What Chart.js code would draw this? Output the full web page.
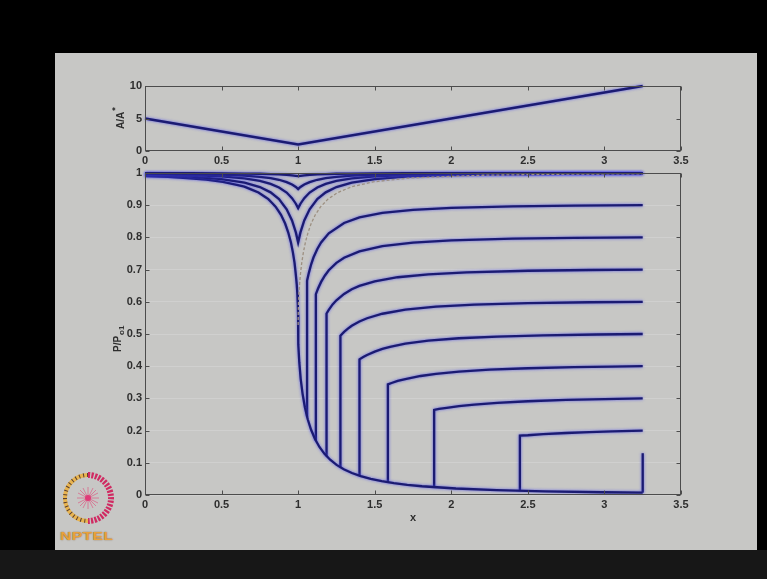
<!DOCTYPE html>
<html>
<head>
<meta charset="utf-8">
<script src="https://cdn.jsdelivr.net/npm/chart.js@4.4.1/dist/chart.umd.min.js"></script>
<style>
html,body{margin:0;padding:0;width:767px;height:579px;overflow:hidden;background:#000;}
#slide{position:absolute;left:55px;top:53px;width:702px;height:497px;background:#c7c7c5;}
#band{position:absolute;left:0;top:550px;width:767px;height:29px;background:#171717;}
#logo{position:absolute;left:58px;top:470px;width:64px;height:80px;}
#nptel{position:absolute;left:2px;top:61px;font:bold 10px 'Liberation Sans',Arial,sans-serif;color:#e9a23a;transform:scaleX(1.55);transform-origin:left top;letter-spacing:0.3px;text-shadow:0 0 1px #7a4a10;}
canvas{position:absolute;left:0;top:0;}
</style>
</head>
<body>
<div id="slide"></div>
<div id="band"></div>
<div id="logo">
  <svg width="64" height="60" viewBox="0 0 64 60">
    <path d="M30,5 A23,23 0 0 0 30,51" fill="none" stroke="#e8b450" stroke-width="4"/>
    <path d="M30,5 A23,23 0 0 0 30,51" fill="none" stroke="#5a4030" stroke-width="4" stroke-dasharray="1 3"/>
    <path d="M30,5 A23,23 0 0 1 30,51" fill="none" stroke="#d02a62" stroke-width="6" stroke-dasharray="2.2 1.3"/>
    <g stroke="#d86a8c" stroke-width="0.8">
      <line x1="30" y1="17" x2="30" y2="39"/><line x1="19" y1="28" x2="41" y2="28"/>
      <line x1="22" y1="20" x2="38" y2="36"/><line x1="38" y1="20" x2="22" y2="36"/>
      <line x1="25" y1="18" x2="35" y2="38"/><line x1="35" y1="18" x2="25" y2="38"/>
      <line x1="20" y1="23" x2="40" y2="33"/><line x1="20" y1="33" x2="40" y2="23"/>
    </g>
    <circle cx="30" cy="28" r="3" fill="#e03a78"/>
  </svg>
  <div id="nptel">NPTEL</div>
</div>
<canvas id="cTop" width="767" height="579"></canvas>
<canvas id="cBot" width="767" height="579"></canvas>
<script>
// ---------- tick labels ----------
const xTickValues = [0, 0.5, 1, 1.5, 2, 2.5, 3, 3.5];
const xTickLabels = ['0', '0.5', '1', '1.5', '2', '2.5', '3', '3.5'];
const areaTickValues = [0, 5, 10];
const areaTickLabels = ['0', '5', '10'];
const pTickValues = [0, 0.1, 0.2, 0.3, 0.4, 0.5, 0.6, 0.7, 0.8, 0.9, 1];
const pTickLabels = ['0', '0.1', '0.2', '0.3', '0.4', '0.5', '0.6', '0.7', '0.8', '0.9', '1'];

// ---------- top plot: area ratio ----------
const areaX = [0, 1, 3.25];
const areaRatio = [5, 1, 10];

// ---------- bottom plot: pressure ratio ----------
// converging section (choked)
const convX = [0, 0.15, 0.2725, 0.4, 0.509, 0.6, 0.649, 0.70, 0.741, 0.78, 0.8055, 0.83, 0.8525, 0.87, 0.888, 0.915, 0.935, 0.953, 0.966, 0.9765, 0.984, 0.9905, 0.995, 0.998, 0.9995, 1];
const convP = [0.9905, 0.9877, 0.9844, 0.9797, 0.9725, 0.9628, 0.9575, 0.9476, 0.9395, 0.9270, 0.9188, 0.9067, 0.8956, 0.8830, 0.8703, 0.8430, 0.8159, 0.7840, 0.7528, 0.7209, 0.6886, 0.6560, 0.6235, 0.5913, 0.5595, 0.5283];
// supersonic expansion
const superX = [1.0005, 1.002, 1.0075, 1.0165, 1.029, 1.044, 1.0625, 1.0845, 1.110, 1.139, 1.172, 1.209, 1.251, 1.298, 1.351, 1.409, 1.474, 1.546, 1.625, 1.7125, 1.809, 2.030, 2.296, 2.6125, 2.987, 3.25];
const superP = [0.4978, 0.4684, 0.4124, 0.3609, 0.3142, 0.2724, 0.2353, 0.2026, 0.1740, 0.1492, 0.1278, 0.1094, 0.0935, 0.0800, 0.0684, 0.0585, 0.0501, 0.0429, 0.0368, 0.0317, 0.0272, 0.0202, 0.0151, 0.0114, 0.0086, 0.0073];
// choked subsonic branch (thin grey)
const chokedSubX = [1, 1.0005, 1.002, 1.005, 1.0095, 1.0155, 1.0235, 1.034, 1.047, 1.064, 1.085, 1.112, 1.1475, 1.1945, 1.259, 1.351, 1.491, 1.7275, 2.2055, 2.75, 3.25];
const chokedSubP = [0.5283, 0.5595, 0.5913, 0.6235, 0.6560, 0.6886, 0.7209, 0.7528, 0.7840, 0.8142, 0.8430, 0.8703, 0.8956, 0.9188, 0.9395, 0.9575, 0.9725, 0.9844, 0.9930, 0.9963, 0.9977];
// fully subsonic (venturi) curves
const subX = [0, 0.3, 0.5, 0.65, 0.75, 0.82, 0.875, 0.925, 0.96, 0.985, 1, 1.015, 1.04, 1.075, 1.125, 1.18, 1.25, 1.35, 1.5, 1.7, 2, 2.25, 2.75, 3.25];
const sub99P = [0.9996, 0.9993, 0.9989, 0.9983, 0.9976, 0.9967, 0.9957, 0.9942, 0.9927, 0.9913, 0.9902, 0.9913, 0.9927, 0.9942, 0.9957, 0.9967, 0.9976, 0.9983, 0.9989, 0.9993, 0.9996, 0.9997, 0.9998, 0.9999];
const sub95P = [0.9981, 0.9968, 0.9949, 0.9916, 0.9880, 0.9840, 0.9790, 0.9716, 0.9641, 0.9567, 0.9500, 0.9567, 0.9641, 0.9716, 0.9790, 0.9840, 0.9880, 0.9916, 0.9949, 0.9968, 0.9981, 0.9987, 0.9993, 0.9995];
const sub89P = [0.9962, 0.9934, 0.9893, 0.9830, 0.9754, 0.9662, 0.9549, 0.9392, 0.9219, 0.9046, 0.8906, 0.9046, 0.9219, 0.9392, 0.9549, 0.9662, 0.9754, 0.9830, 0.9893, 0.9934, 0.9962, 0.9973, 0.9985, 0.9990];
const sub78P = [0.9934, 0.9885, 0.9810, 0.9699, 0.9563, 0.9399, 0.9192, 0.8873, 0.8525, 0.8156, 0.7840, 0.8156, 0.8525, 0.8873, 0.9192, 0.9399, 0.9563, 0.9699, 0.9810, 0.9885, 0.9934, 0.9954, 0.9974, 0.9983];
// normal-shock curves (shock jump then subsonic recovery)
const shock90X = [1.0583, 1.0583, 1.07, 1.085, 1.1, 1.125, 1.15, 1.2, 1.3, 1.4, 1.55, 1.75, 2.0, 2.4, 2.8, 3.25];
const shock90P = [0.2428, 0.6654, 0.6899, 0.7164, 0.7375, 0.7640, 0.7845, 0.8126, 0.8448, 0.8621, 0.8762, 0.8858, 0.8919, 0.8966, 0.8987, 0.9000];
const shock80X = [1.1157, 1.1157, 1.13, 1.15, 1.175, 1.2, 1.25, 1.3, 1.4, 1.55, 1.75, 2.0, 2.4, 2.8, 3.25];
const shock80P = [0.1684, 0.6239, 0.6412, 0.6618, 0.6818, 0.6980, 0.7208, 0.7367, 0.7566, 0.7731, 0.7840, 0.7909, 0.7961, 0.7986, 0.8000];
const shock70X = [1.1854, 1.1854, 1.2, 1.225, 1.25, 1.3, 1.35, 1.4, 1.5, 1.65, 1.85, 2.1, 2.5, 2.9, 3.25];
const shock70P = [0.1205, 0.5637, 0.5752, 0.5920, 0.6046, 0.6245, 0.6391, 0.6494, 0.6637, 0.6763, 0.6854, 0.6916, 0.6964, 0.6988, 0.7000];
const shock60X = [1.276, 1.276, 1.3, 1.325, 1.35, 1.4, 1.45, 1.55, 1.7, 1.9, 2.15, 2.5, 2.9, 3.25];
const shock60P = [0.0859, 0.4948, 0.5067, 0.5165, 0.5256, 0.5387, 0.5490, 0.5629, 0.5754, 0.5848, 0.5912, 0.5957, 0.5986, 0.6000];
const shock50X = [1.4006, 1.4006, 1.425, 1.45, 1.5, 1.55, 1.6, 1.7, 1.85, 2.05, 2.3, 2.6, 2.95, 3.25];
const shock50P = [0.0598, 0.4212, 0.4283, 0.4347, 0.4451, 0.4537, 0.4602, 0.4699, 0.4793, 0.4868, 0.4921, 0.4959, 0.4985, 0.5000];
const shock40X = [1.586, 1.586, 1.61, 1.65, 1.7, 1.8, 1.9, 2.05, 2.25, 2.5, 2.8, 3.05, 3.25];
const shock40P = [0.0397, 0.3437, 0.3479, 0.3541, 0.3601, 0.3696, 0.3762, 0.3831, 0.3891, 0.3936, 0.3971, 0.3988, 0.4000];
const shock30X = [1.888, 1.888, 1.92, 1.97, 2.05, 2.15, 2.3, 2.5, 2.75, 3.0, 3.25];
const shock30P = [0.0243, 0.2643, 0.2672, 0.2708, 0.2761, 0.2809, 0.2863, 0.2912, 0.2953, 0.2980, 0.3000];
const shock20X = [2.448, 2.448, 2.5, 2.6, 2.75, 2.9, 3.05, 3.25];
const shock20P = [0.0131, 0.1845, 0.1856, 0.1888, 0.1926, 0.1954, 0.1977, 0.2000];
const shockExitX = [3.25, 3.25];
const shockExitP = [0.0073, 0.1298];

// ---------- styling ----------
const BLUE = '#1b1b72';
const FONT = "'Liberation Sans', Arial, sans-serif";
const TICKFONT = {family: FONT, size: 11, weight: 'bold'};
const TICKCOLOR = '#2e2e2e';

function pts(xs, ys) { return xs.map((x, i) => ({x: x, y: ys[i]})); }
function blueLine(xs, ys) {
  return {data: pts(xs, ys), borderColor: BLUE, borderWidth: 2.3, pointRadius: 0, showLine: true, fill: false, tension: 0, clip: 5, glow: true};
}

const glowPlugin = {
  id: 'glow',
  beforeDatasetDraw(chart, args) {
    if (chart.data.datasets[args.index].glow) {
      const c = chart.ctx; c.save();
      c.shadowColor = 'rgba(70,70,240,0.8)'; c.shadowBlur = 3;
    }
  },
  afterDatasetDraw(chart, args) {
    if (chart.data.datasets[args.index].glow) chart.ctx.restore();
  }
};

function framePlugin(drawTitles) {
  return {
    id: 'frame',
    afterDraw(chart) {
      const c = chart.ctx, a = chart.chartArea, xs = chart.scales.x, ys = chart.scales.y;
      c.save();
      c.strokeStyle = '#4c4c4c'; c.lineWidth = 1;
      const L = Math.round(a.left) + 0.5, R = Math.round(a.right) - 0.5;
      const T = Math.round(a.top) + 0.5, B = Math.round(a.bottom) - 0.5;
      c.strokeRect(L, T, R - L, B - T);
      c.beginPath();
      xs.ticks.forEach(t => {
        const p = Math.round(xs.getPixelForValue(t.value)) + 0.5;
        c.moveTo(p, B); c.lineTo(p, B - 4); c.moveTo(p, T); c.lineTo(p, T + 4);
      });
      ys.ticks.forEach(t => {
        const p = Math.round(ys.getPixelForValue(t.value)) + 0.5;
        c.moveTo(L, p); c.lineTo(L + 4, p); c.moveTo(R, p); c.lineTo(R - 4, p);
      });
      c.stroke();
      c.fillStyle = TICKCOLOR;
      drawTitles(c, a);
      c.restore();
    }
  };
}

function xScale() {
  return {
    type: 'linear', min: 0, max: 3.5,
    afterBuildTicks: s => { s.ticks = xTickValues.map(v => ({value: v})); },
    afterFit: s => { s.height = 20; },
    ticks: {callback: (v, i) => xTickLabels[i], font: TICKFONT, color: TICKCOLOR, padding: 3, maxRotation: 0, autoSkip: false},
    grid: {display: false, drawTicks: false},
    border: {display: false}
  };
}

function baseOptions(pad, yScale, titles) {
  return {
    type: 'scatter',
    options: {
      responsive: false, animation: false, events: [],
      layout: {padding: pad},
      plugins: {legend: {display: false}, tooltip: {enabled: false}},
      scales: {x: xScale(), y: yScale}
    },
    plugins: [glowPlugin, framePlugin(titles)]
  };
}

// ---------- top chart ----------
const topCfg = baseOptions({left: 105, right: 86, top: 86, bottom: 408}, {
  type: 'linear', min: 0, max: 10,
  afterBuildTicks: s => { s.ticks = areaTickValues.map(v => ({value: v})); },
  afterFit: s => { s.width = 40; },
  ticks: {callback: (v, i) => areaTickLabels[i], font: TICKFONT, color: TICKCOLOR, padding: 3},
  grid: {display: false, drawTicks: false},
  border: {display: false}
}, (c, a) => {
  c.save();
  c.translate(121, 129);
  c.rotate(-Math.PI / 2);
  c.font = "bold 10px " + FONT;
  c.textBaseline = 'middle'; c.textAlign = 'left';
  c.fillText('A/A', 0, 0);
  const w = c.measureText('A/A').width;
  c.font = "bold 9px " + FONT;
  c.fillText('*', w + 1, -5);
  c.restore();
});
topCfg.data = {datasets: [blueLine(areaX, areaRatio)]};
new Chart(document.getElementById('cTop'), topCfg);

// ---------- bottom chart ----------
const botCfg = baseOptions({left: 105, right: 86, top: 173, bottom: 64}, {
  type: 'linear', min: 0, max: 1,
  afterBuildTicks: s => { s.ticks = pTickValues.map(v => ({value: v})); },
  afterFit: s => { s.width = 40; },
  ticks: {callback: (v, i) => pTickLabels[i], font: TICKFONT, color: TICKCOLOR, padding: 3},
  grid: {display: true, drawTicks: false, color: 'rgba(225,225,225,0.35)', lineWidth: 1},
  border: {display: false}
}, (c, a) => {
  c.font = "bold 11px " + FONT;
  c.textAlign = 'center'; c.textBaseline = 'middle';
  c.fillText('x', (a.left + a.right) / 2, 518);
  c.save();
  c.translate(118, 352);
  c.rotate(-Math.PI / 2);
  c.textAlign = 'left'; c.textBaseline = 'middle';
  c.font = "bold 10px " + FONT;
  c.fillText('P/P', 0, 0);
  const w = c.measureText('P/P').width;
  c.font = "bold 8px " + FONT;
  c.fillText('o1', w + 1, 4);
  c.restore();
});
botCfg.data = {datasets: [
  {data: pts(chokedSubX, chokedSubP), borderColor: '#9d9082', borderWidth: 1.3, borderDash: [3, 2], pointRadius: 0, showLine: true, fill: false, tension: 0, clip: 5},
  blueLine(subX, sub99P),
  blueLine(subX, sub95P),
  blueLine(subX, sub89P),
  blueLine(subX, sub78P),
  blueLine(convX.concat(superX), convP.concat(superP)),
  blueLine(shock90X, shock90P),
  blueLine(shock80X, shock80P),
  blueLine(shock70X, shock70P),
  blueLine(shock60X, shock60P),
  blueLine(shock50X, shock50P),
  blueLine(shock40X, shock40P),
  blueLine(shock30X, shock30P),
  blueLine(shock20X, shock20P),
  blueLine(shockExitX, shockExitP)
]};
new Chart(document.getElementById('cBot'), botCfg);
</script>
</body>
</html>
